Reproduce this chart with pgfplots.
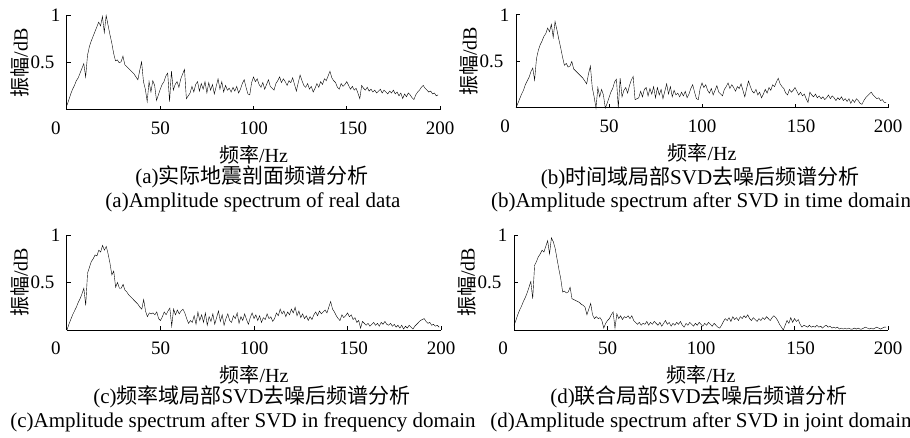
\documentclass[border=0pt]{standalone}
\usepackage{pgfplots}
\pgfplotsset{compat=1.18}
\usepackage{fontspec}
\setmainfont{Liberation Serif}
\newfontfamily\cjk{Noto Sans CJK SC}
\pgfplotsset{spec/.style={
  scale only axis, xmin=0, xmax=200, ymin=0, ymax=1, clip=false,
  axis x line*=bottom, axis y line*=left,
  tick align=inside, major tick length=4pt,
  xtick={0,50,100,150,200}, xticklabels={0\kern22pt,50,100,\kern12pt 150,200},
  ytick={0.5,1}, yticklabels={0.5\kern6pt,1},
  /pgf/number format/assume math mode=true,
  tick label style={font=\fontsize{19}{19}\selectfont},
  xticklabel style={anchor=center, yshift=-18pt},
  yticklabel style={anchor=east, xshift=-3pt},
  xlabel={{\cjk 频率}/Hz}, ylabel={{\cjk 振幅}/dB},
  label style={font=\fontsize{20}{20}\selectfont},
  xlabel style={at={(axis description cs:0.5,0)}, anchor=center, yshift=-45pt},
  ylabel style={at={([xshift=-47pt]axis description cs:0,0.5)}, anchor=center},
  axis line style={line width=1pt, black},
  every tick/.style={black, line width=1pt},
  cycle list={{black, mark=none, line width=1pt, line join=round}},
}}
\begin{document}
\begin{tikzpicture}
\useasboundingbox (0,0) rectangle (910pt,437pt);
% (a)
\begin{axis}[spec, at={(67pt,327pt)}, anchor=south west, width=373pt, height=94.5pt]
\addplot coordinates {(0,0.05)(1,0.11)(2,0.17)(3,0.22)(4,0.26)(5,0.31)(6,0.34)(7,0.39)(8,0.44)(9,0.49)(10,0.35)(11,0.58)(12,0.67)(13,0.73)(14,0.78)(15,0.83)(16,0.88)(17,0.93)(18,0.89)(19,0.99)(20,0.82)(21,1.00)(22,0.90)(23,0.80)(24,0.71)(25,0.60)(26,0.52)(27,0.53)(28,0.50)(29,0.51)(30,0.57)(31,0.48)(32,0.46)(33,0.44)(34,0.42)(35,0.40)(36,0.38)(37,0.35)(38,0.32)(39,0.42)(40,0.51)(41,0.30)(42,0.22)(43,0.09)(44,0.30)(45,0.19)(46,0.31)(47,0.26)(48,0.10)(49,0.16)(50,0.22)(51,0.27)(52,0.30)(53,0.36)(54,0.39)(55,0.09)(56,0.41)(57,0.21)(58,0.27)(59,0.30)(60,0.24)(61,0.33)(62,0.38)(63,0.43)(64,0.12)(65,0.15)(66,0.18)(67,0.25)(68,0.19)(69,0.27)(70,0.30)(71,0.20)(72,0.28)(73,0.22)(74,0.30)(75,0.18)(76,0.29)(77,0.21)(78,0.27)(79,0.17)(80,0.25)(81,0.33)(82,0.22)(83,0.30)(84,0.19)(85,0.26)(86,0.21)(87,0.23)(88,0.19)(89,0.24)(90,0.20)(91,0.25)(92,0.18)(93,0.22)(94,0.28)(95,0.32)(96,0.24)(97,0.17)(98,0.16)(99,0.29)(100,0.35)(101,0.30)(102,0.33)(103,0.27)(104,0.24)(105,0.29)(106,0.22)(107,0.27)(108,0.32)(109,0.25)(110,0.23)(111,0.21)(112,0.28)(113,0.31)(114,0.35)(115,0.29)(116,0.33)(117,0.30)(118,0.26)(119,0.31)(120,0.29)(121,0.34)(122,0.27)(123,0.20)(124,0.29)(125,0.37)(126,0.31)(127,0.26)(128,0.24)(129,0.28)(130,0.22)(131,0.25)(132,0.19)(133,0.23)(134,0.28)(135,0.24)(136,0.30)(137,0.27)(138,0.33)(139,0.31)(140,0.36)(141,0.41)(142,0.34)(143,0.31)(144,0.29)(145,0.24)(146,0.22)(147,0.28)(148,0.25)(149,0.27)(150,0.30)(151,0.26)(152,0.22)(153,0.25)(154,0.21)(155,0.23)(156,0.18)(157,0.12)(158,0.26)(159,0.23)(160,0.21)(161,0.24)(162,0.20)(163,0.22)(164,0.19)(165,0.21)(166,0.18)(167,0.20)(168,0.22)(169,0.18)(170,0.21)(171,0.19)(172,0.17)(173,0.20)(174,0.18)(175,0.21)(176,0.17)(177,0.19)(178,0.15)(179,0.18)(180,0.12)(181,0.17)(182,0.14)(183,0.18)(184,0.16)(185,0.13)(186,0.11)(187,0.16)(188,0.19)(189,0.21)(190,0.24)(191,0.26)(192,0.23)(193,0.21)(194,0.19)(195,0.20)(196,0.17)(197,0.18)(198,0.15)(199,0.16)};
\end{axis}
% (b)
\begin{axis}[spec, at={(516pt,329pt)}, anchor=south west, width=372pt, height=93pt]
\addplot coordinates {(0,0.00)(1,0.05)(2,0.10)(3,0.15)(4,0.19)(5,0.25)(6,0.29)(7,0.33)(8,0.39)(9,0.43)(10,0.30)(11,0.53)(12,0.62)(13,0.68)(14,0.72)(15,0.77)(16,0.80)(17,0.86)(18,0.82)(19,0.90)(20,0.76)(21,0.93)(22,0.84)(23,0.74)(24,0.65)(25,0.55)(26,0.46)(27,0.48)(28,0.44)(29,0.45)(30,0.50)(31,0.42)(32,0.40)(33,0.38)(34,0.36)(35,0.34)(36,0.32)(37,0.29)(38,0.26)(39,0.37)(40,0.45)(41,0.22)(42,0.12)(43,0.00)(44,0.22)(45,0.12)(46,0.20)(47,0.14)(48,0.00)(49,0.05)(50,0.11)(51,0.17)(52,0.21)(53,0.28)(54,0.31)(55,0.00)(56,0.32)(57,0.12)(58,0.19)(59,0.22)(60,0.16)(61,0.24)(62,0.30)(63,0.34)(64,0.09)(65,0.10)(66,0.11)(67,0.18)(68,0.12)(69,0.20)(70,0.22)(71,0.13)(72,0.21)(73,0.15)(74,0.23)(75,0.11)(76,0.22)(77,0.14)(78,0.20)(79,0.10)(80,0.18)(81,0.26)(82,0.15)(83,0.23)(84,0.12)(85,0.19)(86,0.14)(87,0.16)(88,0.12)(89,0.17)(90,0.13)(91,0.18)(92,0.11)(93,0.15)(94,0.21)(95,0.25)(96,0.17)(97,0.10)(98,0.09)(99,0.21)(100,0.27)(101,0.22)(102,0.25)(103,0.19)(104,0.16)(105,0.21)(106,0.14)(107,0.19)(108,0.24)(109,0.17)(110,0.15)(111,0.13)(112,0.20)(113,0.23)(114,0.27)(115,0.21)(116,0.25)(117,0.22)(118,0.18)(119,0.23)(120,0.21)(121,0.26)(122,0.19)(123,0.12)(124,0.21)(125,0.29)(126,0.23)(127,0.18)(128,0.16)(129,0.20)(130,0.14)(131,0.17)(132,0.11)(133,0.15)(134,0.20)(135,0.16)(136,0.22)(137,0.19)(138,0.25)(139,0.23)(140,0.28)(141,0.32)(142,0.26)(143,0.23)(144,0.21)(145,0.16)(146,0.14)(147,0.20)(148,0.17)(149,0.19)(150,0.22)(151,0.18)(152,0.14)(153,0.17)(154,0.13)(155,0.15)(156,0.10)(157,0.06)(158,0.17)(159,0.14)(160,0.12)(161,0.15)(162,0.11)(163,0.13)(164,0.10)(165,0.12)(166,0.09)(167,0.11)(168,0.14)(169,0.10)(170,0.13)(171,0.11)(172,0.08)(173,0.11)(174,0.09)(175,0.12)(176,0.08)(177,0.10)(178,0.07)(179,0.10)(180,0.05)(181,0.09)(182,0.06)(183,0.10)(184,0.08)(185,0.05)(186,0.04)(187,0.08)(188,0.11)(189,0.13)(190,0.15)(191,0.17)(192,0.14)(193,0.12)(194,0.10)(195,0.11)(196,0.08)(197,0.09)(198,0.06)(199,0.06)};
\end{axis}
% (c)
\begin{axis}[spec, at={(67pt,107pt)}, anchor=south west, width=374pt, height=95pt]
\addplot coordinates {(0,0.00)(1,0.06)(2,0.11)(3,0.16)(4,0.20)(5,0.24)(6,0.29)(7,0.33)(8,0.38)(9,0.44)(10,0.26)(11,0.60)(12,0.66)(13,0.72)(14,0.75)(15,0.79)(16,0.78)(17,0.84)(18,0.82)(19,0.89)(20,0.84)(21,0.88)(22,0.80)(23,0.70)(24,0.58)(25,0.62)(26,0.45)(27,0.50)(28,0.44)(29,0.44)(30,0.48)(31,0.42)(32,0.40)(33,0.37)(34,0.35)(35,0.33)(36,0.31)(37,0.29)(38,0.27)(39,0.24)(40,0.22)(41,0.32)(42,0.20)(43,0.14)(44,0.18)(45,0.17)(46,0.18)(47,0.16)(48,0.19)(49,0.12)(50,0.10)(51,0.14)(52,0.19)(53,0.16)(54,0.20)(55,0.23)(56,0.04)(57,0.22)(58,0.16)(59,0.21)(60,0.17)(61,0.20)(62,0.22)(63,0.18)(64,0.12)(65,0.07)(66,0.10)(67,0.08)(68,0.15)(69,0.06)(70,0.19)(71,0.10)(72,0.16)(73,0.08)(74,0.18)(75,0.05)(76,0.14)(77,0.09)(78,0.17)(79,0.06)(80,0.13)(81,0.20)(82,0.09)(83,0.16)(84,0.05)(85,0.12)(86,0.17)(87,0.10)(88,0.08)(89,0.15)(90,0.12)(91,0.18)(92,0.07)(93,0.14)(94,0.10)(95,0.17)(96,0.11)(97,0.06)(98,0.13)(99,0.18)(100,0.12)(101,0.16)(102,0.10)(103,0.15)(104,0.08)(105,0.13)(106,0.11)(107,0.17)(108,0.12)(109,0.14)(110,0.09)(111,0.12)(112,0.18)(113,0.15)(114,0.22)(115,0.17)(116,0.20)(117,0.14)(118,0.19)(119,0.16)(120,0.22)(121,0.18)(122,0.24)(123,0.15)(124,0.20)(125,0.13)(126,0.17)(127,0.12)(128,0.15)(129,0.10)(130,0.14)(131,0.11)(132,0.16)(133,0.19)(134,0.15)(135,0.20)(136,0.17)(137,0.19)(138,0.21)(139,0.18)(140,0.24)(141,0.30)(142,0.22)(143,0.19)(144,0.15)(145,0.12)(146,0.10)(147,0.16)(148,0.13)(149,0.15)(150,0.18)(151,0.14)(152,0.16)(153,0.11)(154,0.13)(155,0.08)(156,0.10)(157,0.02)(158,0.09)(159,0.07)(160,0.05)(161,0.07)(162,0.04)(163,0.06)(164,0.08)(165,0.05)(166,0.07)(167,0.04)(168,0.08)(169,0.06)(170,0.09)(171,0.06)(172,0.05)(173,0.07)(174,0.04)(175,0.06)(176,0.03)(177,0.05)(178,0.02)(179,0.05)(180,0.01)(181,0.04)(182,0.02)(183,0.05)(184,0.03)(185,0.01)(186,0.04)(187,0.06)(188,0.08)(189,0.10)(190,0.11)(191,0.12)(192,0.09)(193,0.07)(194,0.08)(195,0.05)(196,0.06)(197,0.04)(198,0.05)(199,0.03)};
\end{axis}
% (d)
\begin{axis}[spec, at={(514pt,107pt)}, anchor=south west, width=374pt, height=95pt]
\addplot coordinates {(0,0.05)(1,0.10)(2,0.16)(3,0.21)(4,0.25)(5,0.30)(6,0.34)(7,0.39)(8,0.45)(9,0.51)(10,0.33)(11,0.68)(12,0.72)(13,0.77)(14,0.80)(15,0.84)(16,0.82)(17,0.88)(18,0.94)(19,0.80)(20,0.97)(21,0.93)(22,0.86)(23,0.75)(24,0.64)(25,0.54)(26,0.40)(27,0.41)(28,0.39)(29,0.40)(30,0.45)(31,0.33)(32,0.32)(33,0.31)(34,0.30)(35,0.29)(36,0.27)(37,0.26)(38,0.24)(39,0.16)(40,0.22)(41,0.28)(42,0.16)(43,0.12)(44,0.14)(45,0.12)(46,0.13)(47,0.10)(48,0.02)(49,0.07)(50,0.10)(51,0.12)(52,0.16)(53,0.19)(54,0.02)(55,0.17)(56,0.12)(57,0.15)(58,0.11)(59,0.14)(60,0.13)(61,0.15)(62,0.12)(63,0.15)(64,0.10)(65,0.08)(66,0.06)(67,0.08)(68,0.05)(69,0.07)(70,0.06)(71,0.09)(72,0.05)(73,0.08)(74,0.06)(75,0.09)(76,0.07)(77,0.05)(78,0.08)(79,0.04)(80,0.07)(81,0.10)(82,0.06)(83,0.08)(84,0.04)(85,0.07)(86,0.05)(87,0.08)(88,0.06)(89,0.09)(90,0.05)(91,0.03)(92,0.07)(93,0.05)(94,0.08)(95,0.06)(96,0.04)(97,0.07)(98,0.05)(99,0.08)(100,0.06)(101,0.04)(102,0.07)(103,0.05)(104,0.08)(105,0.06)(106,0.04)(107,0.07)(108,0.05)(109,0.03)(110,0.02)(111,0.05)(112,0.09)(113,0.12)(114,0.10)(115,0.13)(116,0.09)(117,0.14)(118,0.11)(119,0.13)(120,0.10)(121,0.14)(122,0.12)(123,0.15)(124,0.13)(125,0.16)(126,0.12)(127,0.10)(128,0.13)(129,0.11)(130,0.09)(131,0.12)(132,0.10)(133,0.13)(134,0.11)(135,0.14)(136,0.12)(137,0.10)(138,0.13)(139,0.15)(140,0.13)(141,0.10)(142,0.06)(143,0.03)(144,0.00)(145,0.05)(146,0.10)(147,0.07)(148,0.13)(149,0.08)(150,0.12)(151,0.09)(152,0.11)(153,0.06)(154,0.03)(155,0.05)(156,0.04)(157,0.03)(158,0.05)(159,0.03)(160,0.04)(161,0.03)(162,0.05)(163,0.03)(164,0.04)(165,0.02)(166,0.04)(167,0.05)(168,0.03)(169,0.04)(170,0.02)(171,0.03)(172,0.02)(173,0.03)(174,0.01)(175,0.02)(176,0.01)(177,0.02)(178,0.01)(179,0.02)(180,0.01)(181,0.01)(182,0.02)(183,0.01)(184,0.02)(185,0.01)(186,0.01)(187,0.02)(188,0.03)(189,0.02)(190,0.01)(191,0.02)(192,0.01)(193,0.02)(194,0.03)(195,0.02)(196,0.01)(197,0.02)(198,0.03)(199,0.03)};
\end{axis}
% captions
\begin{scope}[every node/.style={font=\fontsize{21}{21}\selectfont, inner sep=0pt}]
\node at (252pt,260pt) {(a){\cjk 实际地震剖面频谱分析}};
\node at (253pt,235pt) {(a)Amplitude spectrum of real data};
\node at (700pt,259pt) {(b){\cjk 时间域局部}SVD{\cjk 去噪后频谱分析}};
\node at (701pt,235pt) {(b)Amplitude spectrum after SVD in time domain};
\node at (252pt,40pt) {(c){\cjk 频率域局部}SVD{\cjk 去噪后频谱分析}};
\node at (243pt,15pt) {(c)Amplitude spectrum after SVD in frequency domain};
\node at (699pt,40pt) {(d){\cjk 联合局部}SVD{\cjk 去噪后频谱分析}};
\node at (701pt,15pt) {(d)Amplitude spectrum after SVD in joint domain};
\end{scope}
\end{tikzpicture}
\end{document}
